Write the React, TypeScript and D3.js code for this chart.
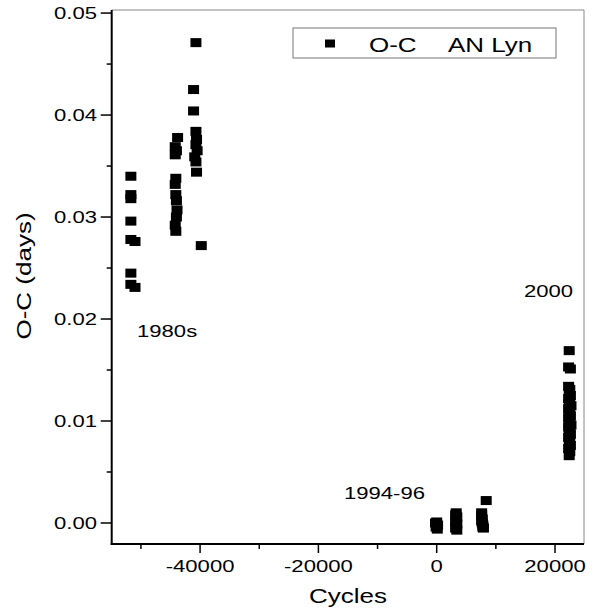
import React from 'react';
import * as d3 from 'd3';

// O-C residuals of AN Lyn
const cycles1980s = [
  -51700, -51700, -51700, -51700, -51700, -51000, -51700, -51700, -51000,
  -43800, -44200, -44000, -44200, -44100, -44200, -44100, -44000, -43900, -44000, -44200, -44100,
  -40700, -41100, -41100, -40700, -40600, -40700, -40500, -40900, -40700, -40600, -39800,
];
const oc1980s = [
  0.0340, 0.0322, 0.0318, 0.0296, 0.0278, 0.0276, 0.0245, 0.0234, 0.0231,
  0.0378, 0.0369, 0.0365, 0.0361, 0.0338, 0.0332, 0.0322, 0.0316, 0.0307, 0.0300, 0.0292, 0.0286,
  0.0471, 0.0425, 0.0404, 0.0384, 0.0376, 0.0371, 0.0365, 0.0359, 0.0354, 0.0344, 0.0272,
];

const cycles1994 = [
  0, -200, 150, -100, 100,
  3300, 3200, 3400, 3300, 3200, 3400, 3300, 3200, 3400,
  7600, 7600, 7700, 7600, 7700, 7800, 7800, 7900, 8370,
];
const oc1994 = [
  0.0001, 0.0000, -0.0002, -0.0004, -0.0006,
  0.0010, 0.0008, 0.0006, 0.0003, 0.0001, -0.0001, -0.0003, -0.0005, -0.0007,
  0.0010, 0.0007, 0.0004, 0.0002, 0.0000, -0.0002, -0.0004, -0.0005, 0.0022,
];

const cycles2000 = [
  22400, 22300, 22600,
  22300, 22500, 22400, 22600, 22300, 22500, 22400, 22700, 22300, 22500, 22400,
  22600, 22300, 22500, 22400, 22700, 22300, 22500, 22400, 22600, 22300, 22500,
  22400, 22600, 22300, 22500, 22400,
];
const oc2000 = [
  0.0169, 0.0153, 0.0151,
  0.0134, 0.0131, 0.0128, 0.0125, 0.0122, 0.0120, 0.0117, 0.0115, 0.0112, 0.0110, 0.0108,
  0.0105, 0.0103, 0.0100, 0.0098, 0.0096, 0.0094, 0.0092, 0.0089, 0.0087, 0.0084, 0.0082,
  0.0079, 0.0076, 0.0073, 0.0070, 0.0066,
];

const epochLabels = ['1980s', '1994-96', '2000'];

const font = 'Liberation Sans, Arial, sans-serif';
const SX = 1.3; // text in the figure is stretched horizontally

const SText = ({ x, y, size, anchor = 'start', rotate = 0, children }: any) => (
  <g transform={`translate(${x},${y}) rotate(${rotate}) scale(${SX},1)`}>
    <text textAnchor={anchor} fontSize={size} fontFamily={font} fill="#000">
      {children}
    </text>
  </g>
);

export default function App() {
  const left = 111.7, right = 584, top = 10, bottom = 544;
  const x = d3.scaleLinear().domain([-54940, 24900]).range([left, right]);
  const y = d3.scaleLinear().domain([-0.00206, 0.0503]).range([bottom, top]);

  const xt = x.ticks(8);
  const yt = y.ticks(10);

  const pts = [
    ...cycles1980s.map((c, i) => [c, oc1980s[i]]),
    ...cycles1994.map((c, i) => [c, oc1994[i]]),
    ...cycles2000.map((c, i) => [c, oc2000[i]]),
  ];

  return (
    <svg width={605} height={608} style={{ position: 'absolute', left: 0, top: 0, background: '#fff' }}>
      <rect width={605} height={608} fill="#fff" />
      {/* frame */}
      <line x1={left} x2={right} y1={top} y2={top} stroke="#888" strokeWidth={1} />
      <line x1={right} x2={right} y1={top} y2={bottom} stroke="#888" strokeWidth={1} />
      <line x1={left} x2={left} y1={top} y2={bottom + 1} stroke="#000" strokeWidth={2} />
      <line x1={left - 1} x2={right} y1={bottom} y2={bottom} stroke="#000" strokeWidth={2} />

      {/* x ticks */}
      {xt.map((t) => {
        const major = t % 20000 === 0;
        return (
          <g key={'x' + t}>
            <line x1={x(t)} x2={x(t)} y1={bottom} y2={bottom + (major ? 9 : 5)} stroke="#000" strokeWidth={1.5} />
            {major && <SText x={x(t)} y={572} size={17} anchor="middle">{String(t)}</SText>}
          </g>
        );
      })}

      {/* y ticks */}
      {yt.map((t) => {
        const major = Math.abs(Math.round(t * 100) - t * 100) < 1e-6;
        return (
          <g key={'y' + t}>
            <line x1={left - (major ? 11 : 5)} x2={left} y1={y(t)} y2={y(t)} stroke="#000" strokeWidth={1.5} />
            {major && <SText x={97} y={y(t) + 6} size={17} anchor="end">{d3.format('.2f')(t)}</SText>}
          </g>
        );
      })}

      <SText x={348} y={603} size={20} anchor="middle">Cycles</SText>
      <SText x={31} y={276} size={20} anchor="middle" rotate={-90}>O-C (days)</SText>

      {/* points */}
      {pts.map(([c, v], i) => (
        <rect key={i} x={x(c) - 5.5} y={y(v) - 4.5} width={11} height={9} fill="#000" />
      ))}

      {/* epoch labels */}
      <SText x={137} y={337} size={17}>{epochLabels[0]}</SText>
      <SText x={425} y={499} size={17} anchor="end">{epochLabels[1]}</SText>
      <SText x={524} y={297} size={17}>{epochLabels[2]}</SText>

      {/* legend */}
      <rect x={293} y={28} width={263} height={30} fill="#fff" stroke="#777" strokeWidth={1} />
      <rect x={325} y={39.5} width={10} height={8} fill="#000" />
      <SText x={369} y={51.5} size={20}>O-C</SText>
      <SText x={448} y={51.5} size={20}>AN Lyn</SText>
    </svg>
  );
}
